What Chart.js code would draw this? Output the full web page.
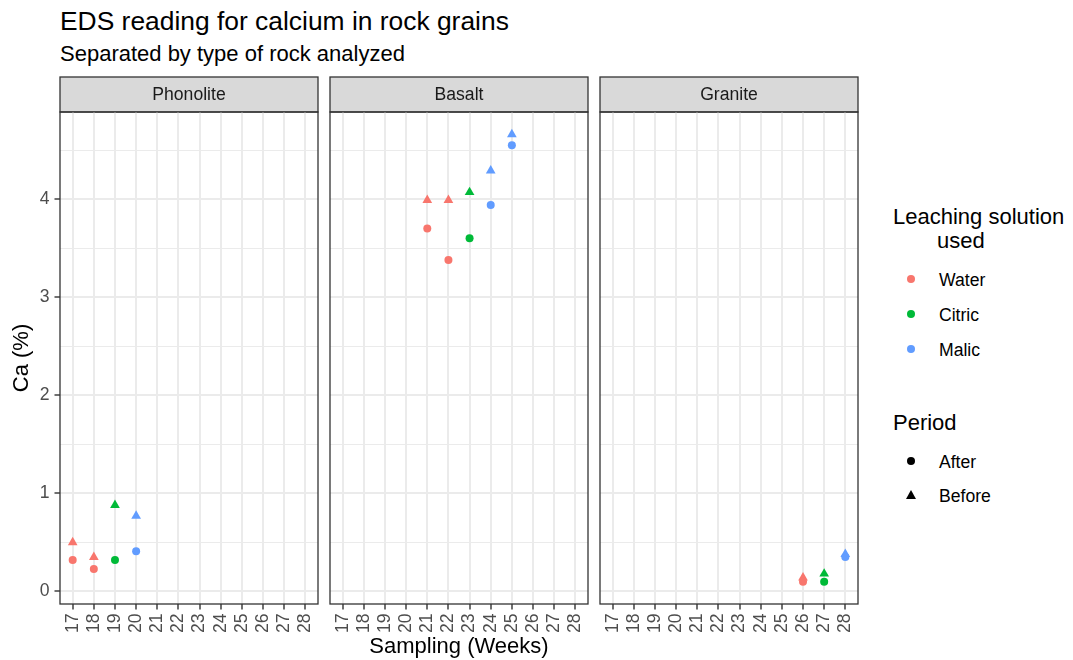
<!DOCTYPE html>
<html>
<head>
<meta charset="utf-8">
<script src="https://cdn.jsdelivr.net/npm/chart.js@4.4.0/dist/chart.umd.min.js"></script>
<style>
  html, body { margin: 0; padding: 0; background: #ffffff; }
  #page { position: relative; width: 1073px; height: 660px; overflow: hidden;
          font-family: "Liberation Sans", Arial, sans-serif; color: #000; background: #fff; }
  .txt { position: absolute; white-space: nowrap; line-height: 1; }
  canvas.facet { position: absolute; top: 70px; }
  .dot { position: absolute; width: 8px; height: 8px; border-radius: 50%; }
  .tri { position: absolute; width: 10px; height: 9px; background: #000;
         clip-path: polygon(50% 0, 100% 100%, 0 100%); }
</style>
</head>
<body>
<div id="page">
  <div class="txt" style="left:60px; top:7.7px; font-size:26.4px;">EDS reading for calcium in rock grains</div>
  <div class="txt" style="left:60px; top:42.9px; font-size:22px;">Separated by type of rock analyzed</div>

  <canvas id="c0" class="facet" width="320" height="590" style="left:0px;"></canvas>
  <canvas id="c1" class="facet" width="262" height="590" style="left:328px;"></canvas>
  <canvas id="c2" class="facet" width="262" height="590" style="left:598px;"></canvas>

  <div id="legend"></div>
</div>

<script>
// ---- data -------------------------------------------------------------
const rocks = ['Phonolite', 'Basalt', 'Granite'];
const solutions = ['Water', 'Citric', 'Malic'];
const periods = ['After', 'Before'];
const solutionColors = ['#F8766D', '#00BA38', '#619CFF'];
const periodShapes = ['circle', 'triangle'];

const weekTicks = [17, 18, 19, 20, 21, 22, 23, 24, 25, 26, 27, 28];
const caTicks = [0, 0.5, 1, 1.5, 2, 2.5, 3, 3.5, 4, 4.5];

// one entry per sampled week
const sampleWeek = [17, 18, 19, 20, 21, 22, 23, 24, 25, 26, 27, 28];
const sampleRock = ['Phonolite', 'Phonolite', 'Phonolite', 'Phonolite',
                    'Basalt', 'Basalt', 'Basalt', 'Basalt', 'Basalt',
                    'Granite', 'Granite', 'Granite'];
const sampleSolution = ['Water', 'Water', 'Citric', 'Malic',
                        'Water', 'Water', 'Citric', 'Malic', 'Malic',
                        'Water', 'Citric', 'Malic'];
const caAfter  = [0.32, 0.23, 0.32, 0.41, 3.70, 3.38, 3.60, 3.94, 4.55, 0.10, 0.10, 0.35];
const caBefore = [0.50, 0.35, 0.88, 0.77, 3.99, 3.99, 4.07, 4.29, 4.66, 0.14, 0.18, 0.38];

// ---- shared scale limits (5% padding on Ca, 0.6 week on each side) ------
const allCa = caAfter.concat(caBefore);
const caLo = Math.min(...allCa), caHi = Math.max(...allCa);
const caPad = 0.05 * (caHi - caLo);
const yMin = caLo - caPad, yMax = caHi + caPad;
const xMin = weekTicks[0] - 0.6, xMax = weekTicks[weekTicks.length - 1] + 0.6;

const FONT = '"Liberation Sans", Arial, sans-serif';
const GRID = '#ebebeb';
const DARK = '#333333';
const STRIP_H = 35;

// strip on top of each facet and the dark frame around its plotting area
const panelFrame = {
  id: 'panelFrame',
  beforeDraw(chart, args, opts) {
    const { ctx, chartArea: a } = chart;
    ctx.save();
    ctx.fillStyle = '#d9d9d9';
    ctx.fillRect(a.left, a.top - STRIP_H, a.right - a.left, STRIP_H);
    ctx.strokeStyle = DARK;
    ctx.lineWidth = 1.3;
    ctx.strokeRect(a.left, a.top - STRIP_H, a.right - a.left, STRIP_H);
    ctx.fillStyle = '#1a1a1a';
    ctx.font = '17.6px ' + FONT;
    ctx.textAlign = 'center';
    ctx.textBaseline = 'middle';
    ctx.fillText(opts.label, (a.left + a.right) / 2, a.top - STRIP_H / 2 + 1);
    ctx.restore();
  },
  afterDraw(chart) {
    const { ctx, chartArea: a } = chart;
    ctx.save();
    ctx.strokeStyle = DARK;
    ctx.lineWidth = 1.3;
    ctx.strokeRect(a.left, a.top, a.right - a.left, a.bottom - a.top);
    ctx.restore();
  }
};

function datasetsFor(rock) {
  const out = [];
  solutions.forEach((sol, si) => {
    periods.forEach((per, pi) => {
      const values = per === 'After' ? caAfter : caBefore;
      const pts = [];
      sampleWeek.forEach((w, i) => {
        if (sampleRock[i] === rock && sampleSolution[i] === sol) pts.push({ x: w, y: values[i] });
      });
      if (!pts.length) return;
      out.push({
        label: sol + ' ' + per,
        data: pts,
        pointStyle: periodShapes[pi],
        pointRadius: pi === 0 ? 4 : 5.6,
        pointBackgroundColor: solutionColors[si],
        pointBorderColor: solutionColors[si],
        pointBorderWidth: 0,
        showLine: false
      });
    });
  });
  return out;
}

function makeFacet(idx) {
  const first = idx === 0;
  const middle = idx === 1;
  const canvas = document.getElementById('c' + idx);
  return new Chart(canvas, {
    type: 'scatter',
    data: { datasets: datasetsFor(rocks[idx]) },
    plugins: [panelFrame],
    options: {
      responsive: false,
      animation: false,
      events: [],
      layout: { autoPadding: false,
                padding: { top: 7 + STRIP_H, bottom: 0, right: 2, left: first ? 0 : 2 } },
      plugins: {
        legend: { display: false },
        tooltip: { enabled: false },
        panelFrame: { label: rocks[idx] }
      },
      scales: {
        x: {
          type: 'linear',
          min: xMin,
          max: xMax,
          afterBuildTicks: s => { s.ticks = weekTicks.map(v => ({ value: v })); },
          afterFit: s => { s.height = 56; s.paddingLeft = 0; s.paddingRight = 0; },
          border: { display: false },
          grid: { color: GRID, lineWidth: 2, drawTicks: true, tickLength: 5.5,
                  tickColor: DARK, tickWidth: 1.4 },
          ticks: { autoSkip: false, minRotation: 90, maxRotation: 90, padding: 4,
                   color: '#4d4d4d', font: { family: FONT, size: 17.6 },
                   callback: v => String(v) },
          title: { display: middle, text: 'Sampling (Weeks)', color: '#000',
                   font: { family: FONT, size: 22 }, padding: { top: 0, bottom: 0 } }
        },
        y: {
          type: 'linear',
          min: yMin,
          max: yMax,
          afterBuildTicks: s => { s.ticks = caTicks.map(v => ({ value: v })); },
          afterFit: s => { s.width = first ? 60 : 0; s.paddingTop = 0; s.paddingBottom = 0; },
          border: { display: false },
          grid: {
            color: GRID,
            lineWidth: c => (c.tick && Number.isInteger(c.tick.value)) ? 2 : 1.1,
            drawTicks: first,
            tickLength: 5.5,
            tickWidth: 1.4,
            tickColor: c => (c.tick && Number.isInteger(c.tick.value)) ? DARK : 'rgba(0,0,0,0)'
          },
          ticks: { display: first, padding: 5, color: '#4d4d4d',
                   font: { family: FONT, size: 17.6 },
                   callback: v => Number.isInteger(v) ? String(v) : '' },
          title: { display: first, text: 'Ca (%)', color: '#000',
                   font: { family: FONT, size: 22 }, padding: { top: 9, bottom: 0 } }
        }
      }
    }
  });
}

rocks.forEach((r, i) => makeFacet(i));

// ---- legend -------------------------------------------------------------
const legend = document.getElementById('legend');
function addText(text, left, top, size) {
  const d = document.createElement('div');
  d.className = 'txt';
  d.textContent = text;
  d.style.left = left + 'px';
  d.style.top = top + 'px';
  d.style.fontSize = size + 'px';
  legend.appendChild(d);
}
addText('Leaching solution', 893, 206.4, 22);
addText('used', 937, 230.4, 22);
const solutionRowY = [279, 314, 349];
solutions.forEach((s, i) => {
  const dot = document.createElement('div');
  dot.className = 'dot';
  dot.style.background = solutionColors[i];
  dot.style.left = (911 - 4) + 'px';
  dot.style.top = (solutionRowY[i] - 4) + 'px';
  legend.appendChild(dot);
  addText(s, 939, solutionRowY[i] - 6.6, 17.6);
});
addText('Period', 893, 412.3, 22);
const periodRowY = [461, 495];
periods.forEach((p, i) => {
  const m = document.createElement('div');
  if (periodShapes[i] === 'circle') {
    m.className = 'dot';
    m.style.background = '#000';
    m.style.left = (911 - 4) + 'px';
    m.style.top = (periodRowY[i] - 4) + 'px';
  } else {
    m.className = 'tri';
    m.style.left = (911 - 5) + 'px';
    m.style.top = (periodRowY[i] - 5) + 'px';
  }
  legend.appendChild(m);
  addText(p, 939, periodRowY[i] - 6.6, 17.6);
});
</script>
</body>
</html>
